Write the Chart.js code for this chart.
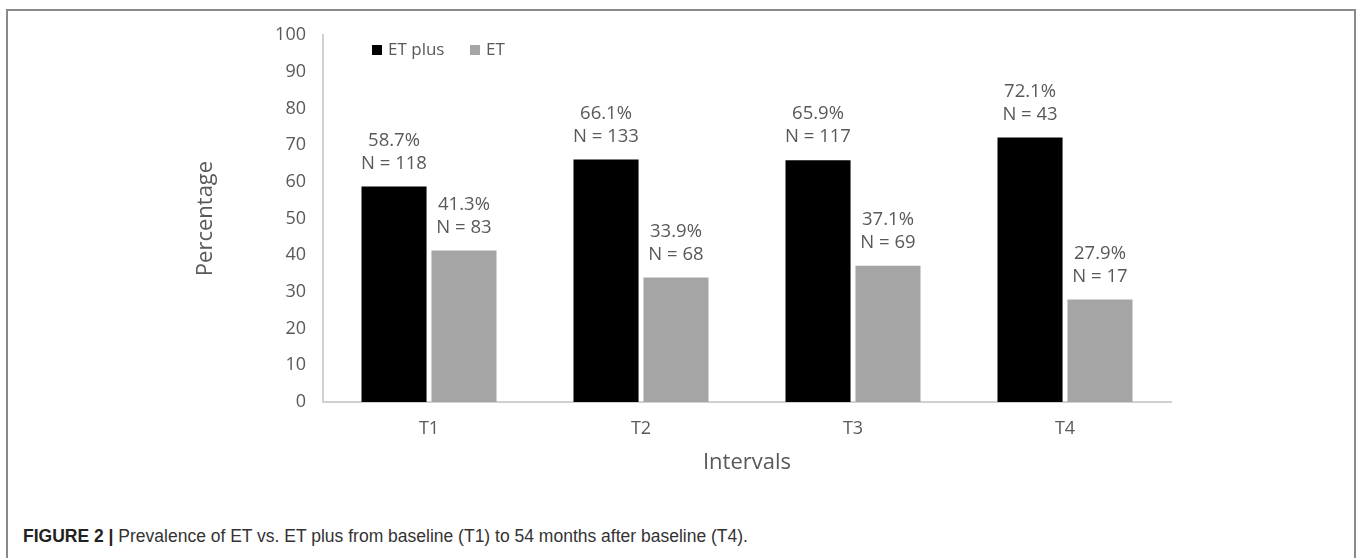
<!DOCTYPE html>
<html lang="en">
<head>
<meta charset="UTF-8">
<title>Prevalence of ET vs. ET plus</title>
<script src="https://cdn.jsdelivr.net/npm/chart.js@4.4.1/dist/chart.umd.min.js"></script>
<style>
    html, body { margin: 0; padding: 0; background: #fff; }
    body { width: 1358px; height: 558px; position: relative; overflow: hidden; }
    .frame {
        position: absolute; left: 6px; top: 9px; width: 1346px; height: 560px;
        border: 2px solid #8a8a8a; border-bottom: none;
    }
    #chartBox { position: absolute; left: 0; top: 0; width: 1358px; height: 500px; }
    .caption {
        position: absolute; left: 23px; top: 526px;
        font-family: "Liberation Sans", Arial, sans-serif; font-size: 17.5px; color: #333;
        white-space: nowrap;
    }
    .caption b { color: #222; }
</style>
</head>
<body>
<div class="frame"></div>
<div id="chartBox"><canvas id="barChart" width="1358" height="500"></canvas></div>
<div class="caption"><b>FIGURE 2 |</b> Prevalence of ET vs. ET plus from baseline (T1) to 54 months after baseline (T4).</div>

<script>
    // data
    const intervals = ['T1', 'T2', 'T3', 'T4'];
    const etPlusPct = [58.7, 66.1, 65.9, 72.1];
    const etPct = [41.3, 33.9, 37.1, 27.9];
    const etPlusN = [118, 133, 117, 43];
    const etN = [83, 68, 69, 17];
    const yTicks = [0, 10, 20, 30, 40, 50, 60, 70, 80, 90, 100];

    const textColor = '#595959';
    const chartFont = '"Open Sans", sans-serif';

    // two-line labels above each bar: percentage and count
    const barLabels = {
        id: 'barLabels',
        afterDatasetsDraw(chart) {
            const ctx = chart.ctx;
            ctx.save();
            ctx.font = '18.5px ' + chartFont;
            ctx.fillStyle = textColor;
            ctx.textAlign = 'center';
            ctx.textBaseline = 'middle';
            chart.data.datasets.forEach((ds, i) => {
                chart.getDatasetMeta(i).data.forEach((bar, j) => {
                    ctx.fillText(ds.data[j].toFixed(1) + '%', bar.x, bar.y - 46);
                    ctx.fillText('N = ' + ds.counts[j], bar.x, bar.y - 23);
                });
            });
            ctx.restore();
        }
    };

    // small legend inside the plot area, top left
    const insideLegend = {
        id: 'insideLegend',
        afterDraw(chart) {
            const ctx = chart.ctx;
            const area = chart.chartArea;
            let x = area.left + 49;
            const y = area.top + 15;
            ctx.save();
            ctx.font = '17px ' + chartFont;
            ctx.textBaseline = 'middle';
            ctx.textAlign = 'left';
            chart.data.datasets.forEach(ds => {
                ctx.fillStyle = ds.backgroundColor;
                ctx.fillRect(x, y - 5, 10, 10);
                ctx.fillStyle = textColor;
                ctx.fillText(ds.label, x + 16, y);
                x += 98;
            });
            ctx.restore();
        }
    };

    const ctx = document.getElementById('barChart').getContext('2d');
    new Chart(ctx, {
        type: 'bar',
        data: {
            labels: intervals,
            datasets: [
                { label: 'ET plus', data: etPlusPct, counts: etPlusN, backgroundColor: '#000000' },
                { label: 'ET', data: etPct, counts: etN, backgroundColor: '#a5a5a5' }
            ]
        },
        options: {
            responsive: false,
            animation: false,
            events: [],
            categoryPercentage: 0.66,
            barPercentage: 0.93,
            layout: { padding: { left: 189, right: 187, top: 35, bottom: 20 } },
            plugins: {
                legend: { display: false },
                tooltip: { enabled: false }
            },
            scales: {
                x: {
                    grid: { display: false, drawTicks: false },
                    border: { color: '#d0d0d0', width: 2 },
                    ticks: { color: textColor, padding: 16, font: { family: chartFont, size: 18 } },
                    title: { display: true, text: 'Intervals', color: textColor, font: { family: chartFont, size: 22 } },
                    afterFit: axis => { axis.height = 78; }
                },
                y: {
                    min: 0,
                    max: 100,
                    afterBuildTicks: axis => { axis.ticks = yTicks.map(v => ({ value: v })); },
                    grid: { display: false, drawTicks: false },
                    border: { color: '#d0d0d0', width: 2 },
                    ticks: { color: textColor, padding: 17, font: { family: chartFont, size: 18 } },
                    title: { display: true, text: 'Percentage', color: textColor, font: { family: chartFont, size: 22 } },
                    afterFit: axis => { axis.width = 134; }
                }
            }
        },
        plugins: [barLabels, insideLegend]
    });
</script>
</body>
</html>
